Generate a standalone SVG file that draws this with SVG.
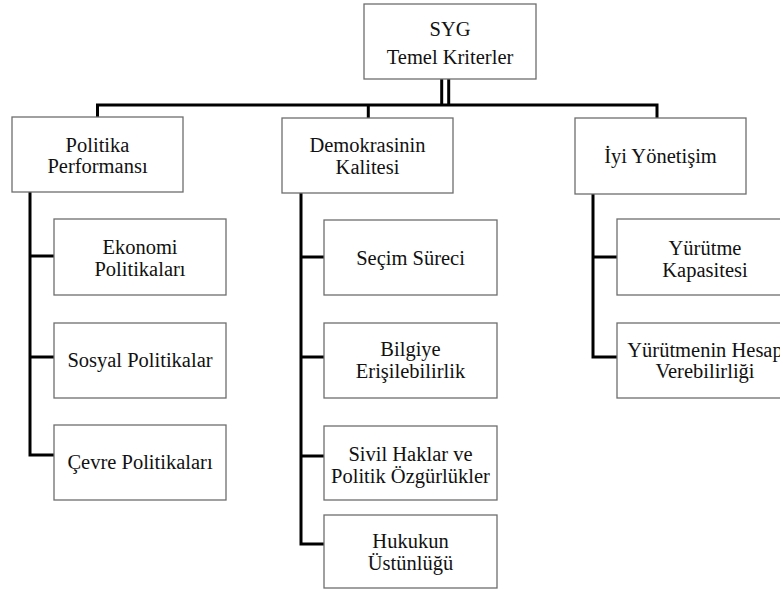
<svg xmlns="http://www.w3.org/2000/svg" width="780" height="591" viewBox="0 0 780 591">
<style>
.box{fill:#ffffff;stroke:#6e6e6e;stroke-width:1.3}
.c{fill:none;stroke:#000;stroke-width:3}
</style>
<rect width="780" height="591" fill="#ffffff"/>
<g id="connectors">
<line class="c" x1="441.7" y1="79" x2="441.7" y2="105"/>
<line class="c" x1="448.7" y1="79" x2="448.7" y2="105"/>
<polyline class="c" points="97.5,117 97.5,105 657,105 657,118"/>
<line class="c" x1="368.3" y1="105" x2="368.3" y2="118"/>
<polyline class="c" points="30,192 30,455 54,455"/>
<line class="c" x1="30" y1="256" x2="54" y2="256"/>
<line class="c" x1="30" y1="357" x2="54" y2="357"/>
<polyline class="c" points="301,193 301,544 324,544"/>
<line class="c" x1="301" y1="257" x2="324" y2="257"/>
<line class="c" x1="301" y1="357" x2="324" y2="357"/>
<line class="c" x1="301" y1="456" x2="324" y2="456"/>
<polyline class="c" points="593,194 593,357 617,357"/>
<line class="c" x1="593" y1="257" x2="617" y2="257"/>
</g>
<g id="nodes" font-family="Liberation Serif, Times New Roman, serif" font-size="20.5" fill="#111" text-anchor="middle">
<g id="root"><rect class="box" x="364" y="4" width="172" height="75"/><text x="450" y="35.5">SYG</text><text x="450" y="64">Temel Kriterler</text></g>
<g id="politika"><rect class="box" x="12" y="117" width="171" height="75"/><text x="97.5" y="151.5">Politika</text><text x="97.5" y="173.3">Performansı</text></g>
<g id="ekonomi"><rect class="box" x="54" y="219" width="172" height="76"/><text x="140" y="254">Ekonomi</text><text x="140" y="275.7">Politikaları</text></g>
<g id="sosyal"><rect class="box" x="54" y="323" width="172" height="75"/><text x="140" y="367">Sosyal Politikalar</text></g>
<g id="cevre"><rect class="box" x="54" y="425" width="172" height="75"/><text x="140" y="468.5">Çevre Politikaları</text></g>
<g id="demokrasi"><rect class="box" x="282" y="118" width="171" height="75"/><text x="367.5" y="151.7">Demokrasinin</text><text x="367.5" y="174">Kalitesi</text></g>
<g id="secim"><rect class="box" x="324" y="220" width="173" height="75"/><text x="410.5" y="265">Seçim Süreci</text></g>
<g id="bilgi"><rect class="box" x="324" y="323" width="173" height="75"/><text x="410.5" y="356">Bilgiye</text><text x="410.5" y="378.3">Erişilebilirlik</text></g>
<g id="sivil"><rect class="box" x="324" y="426" width="173" height="74"/><text x="410.5" y="461">Sivil Haklar ve</text><text x="410.5" y="482.7">Politik Özgürlükler</text></g>
<g id="hukuk"><rect class="box" x="324" y="515" width="173" height="73"/><text x="410.5" y="548">Hukukun</text><text x="410.5" y="569.8">Üstünlüğü</text></g>
<g id="iyi"><rect class="box" x="575" y="118" width="171" height="76"/><text x="660.5" y="163.3">İyi Yönetişim</text></g>
<g id="yurutme"><rect class="box" x="617" y="219" width="176" height="76"/><text x="705" y="255">Yürütme</text><text x="705" y="276.7">Kapasitesi</text></g>
<g id="hesap"><rect class="box" x="617" y="323" width="176" height="75"/><text x="705" y="356.7">Yürütmenin Hesap</text><text x="705" y="378.3">Verebilirliği</text></g>
</g>
</svg>
